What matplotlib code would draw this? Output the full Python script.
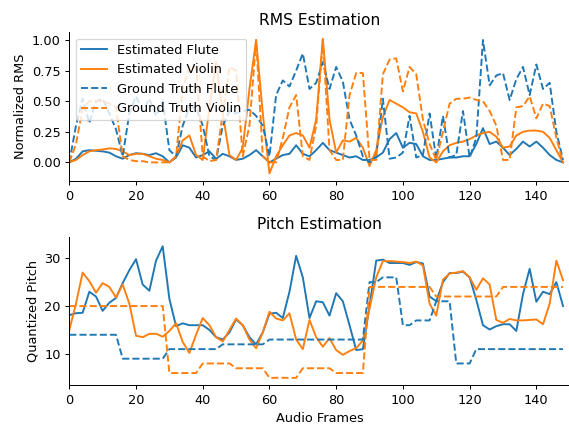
import numpy as np
import matplotlib
matplotlib.use("Agg")
import matplotlib.pyplot as plt

frames = np.arange(0, 150, 2)

rms_est_flute = [0.00, 0.03, 0.09, 0.10, 0.095, 0.09, 0.08, 0.05, 0.03, 0.06,
                 0.075, 0.07, 0.06, 0.075, 0.05, 0.00, 0.04, 0.14, 0.12, 0.04,
                 0.06, 0.09, 0.03, 0.07, 0.05, 0.02, 0.03, 0.06, 0.10, 0.05,
                 0.00, 0.03, 0.06, 0.07, 0.14, 0.07, 0.05, 0.10, 0.16, 0.10,
                 0.08, 0.06, 0.04, 0.05, 0.02, 0.02, 0.04, 0.08, 0.19, 0.24,
                 0.12, 0.16, 0.15, 0.05, 0.02, 0.02, 0.03, 0.04, 0.04, 0.05,
                 0.05, 0.15, 0.28, 0.15, 0.17, 0.12, 0.06, 0.11, 0.17, 0.13,
                 0.17, 0.12, 0.06, 0.02, 0.00]

rms_est_violin = [0.00, 0.02, 0.06, 0.09, 0.10, 0.105, 0.115, 0.11, 0.09, 0.06,
                  0.07, 0.07, 0.05, 0.03, 0.02, 0.00, 0.05, 0.18, 0.22, 0.06,
                  0.02, 0.45, 0.82, 0.40, 0.06, 0.02, 0.12, 0.60, 1.00, 0.40,
                  -0.09, 0.05, 0.14, 0.22, 0.24, 0.22, 0.12, 0.35, 1.01, 0.35,
                  0.08, 0.18, 0.17, 0.20, 0.12, -0.03, 0.10, 0.37, 0.51, 0.48,
                  0.45, 0.41, 0.40, 0.25, 0.04, 0.00, 0.09, 0.14, 0.16, 0.17,
                  0.19, 0.22, 0.24, 0.25, 0.21, 0.12, 0.13, 0.22, 0.25, 0.26,
                  0.26, 0.25, 0.20, 0.10, 0.00]

rms_gt_flute = [0.00, 0.30, 0.52, 0.32, 0.50, 0.52, 0.40, 0.27, 0.05, 0.40,
                0.54, 0.42, 0.52, 0.38, 0.50, 0.10, 0.05, 0.30, 0.45, 0.45,
                0.30, 0.05, 0.02, 0.30, 0.42, 0.40, 0.42, 0.43, 0.38, 0.30,
                0.05, 0.55, 0.67, 0.62, 0.75, 0.89, 0.60, 0.65, 0.82, 0.60,
                0.78, 0.66, 0.35, 0.22, 0.05, 0.00, 0.05, 0.52, 0.03, 0.04,
                0.08, 0.38, 0.04, 0.06, 0.40, 0.03, 0.38, 0.04, 0.06, 0.42,
                0.04, 0.20, 1.00, 0.63, 0.71, 0.73, 0.51, 0.68, 0.78, 0.55,
                0.80, 0.60, 0.65, 0.25, 0.02]

rms_gt_violin = [0.00, 0.15, 0.44, 0.50, 0.50, 0.50, 0.48, 0.45, 0.05, 0.02,
                 0.01, 0.01, 0.00, 0.00, 0.00, 0.00, 0.05, 0.60, 0.78, 0.78,
                 0.05, 0.01, 0.02, 0.40, 0.78, 0.75, 0.05, 0.30, 1.00, 0.05,
                 0.00, 0.00, 0.20, 0.45, 0.55, 0.05, 0.02, 0.30, 1.00, 0.10,
                 0.02, 0.02, 0.55, 0.73, 0.73, 0.02, 0.02, 0.72, 0.84, 0.85,
                 0.58, 0.78, 0.72, 0.35, 0.15, 0.02, 0.25, 0.48, 0.52, 0.52,
                 0.53, 0.51, 0.50, 0.42, 0.30, 0.02, 0.02, 0.45, 0.46, 0.54,
                 0.36, 0.48, 0.46, 0.20, 0.00]

pitch_est_flute = [18.1, 18.5, 18.6, 23.0, 22.0, 19.0, 20.7, 21.7, 24.8, 27.5,
                   29.8, 24.5, 23.2, 29.5, 32.5, 21.5, 15.8, 16.4, 16.0, 16.0,
                   16.0, 15.0, 13.5, 13.0, 14.5, 17.2, 16.0, 13.5, 12.0, 14.5,
                   18.4, 18.6, 17.5, 23.0, 30.5, 26.0, 17.5, 21.0, 20.8, 18.0,
                   22.7, 21.0, 16.0, 10.8, 11.0, 20.0, 29.5, 29.7, 29.0, 29.0,
                   29.0, 28.6, 29.2, 28.9, 22.0, 21.0, 25.0, 26.9, 26.9, 27.2,
                   26.0, 21.3, 16.0, 15.1, 15.8, 16.2, 16.2, 14.8, 22.5, 27.8,
                   20.9, 23.0, 22.5, 25.0, 20.0]

pitch_est_violin = [15.0, 20.5, 27.0, 25.2, 22.8, 24.8, 24.0, 21.8, 24.5, 20.5,
                    13.8, 13.5, 14.2, 14.2, 13.6, 14.8, 16.4, 12.5, 10.2, 14.0,
                    17.5, 16.0, 13.5, 12.6, 15.0, 17.4, 16.0, 13.0, 11.2, 14.5,
                    18.8, 17.4, 17.0, 18.5, 13.0, 11.0, 17.1, 13.5, 11.5, 13.3,
                    10.8, 9.8, 10.6, 11.2, 12.8, 19.5, 26.0, 29.4, 29.4, 29.3,
                    29.2, 29.0, 29.3, 28.5, 20.5, 18.0, 25.5, 26.8, 27.0, 27.3,
                    26.0, 23.4, 25.8, 24.5, 17.1, 16.5, 17.3, 17.0, 17.0, 17.1,
                    17.2, 16.2, 20.5, 29.5, 25.4]

pitch_gt_flute = [14, 14, 14, 14, 14, 14, 14, 14, 9, 9,
                  9, 9, 9, 9, 9, 11, 11, 11, 11, 11,
                  11, 11, 11, 12, 12, 12, 12, 12, 12, 12,
                  13, 13, 13, 13, 13, 13, 13, 13, 13, 13,
                  13, 13, 13, 13, 13, 25, 25, 26, 26, 26,
                  16, 16, 17, 17, 17, 21, 21, 21, 8, 8,
                  8, 11, 11, 11, 11, 11, 11, 11, 11, 11,
                  11, 11, 11, 11, 11]

pitch_gt_violin = [20, 20, 20, 20, 20, 20, 20, 20, 20, 20,
                   20, 20, 20, 20, 20, 6, 6, 6, 6, 6,
                   8, 8, 8, 8, 8, 7, 7, 7, 7, 7,
                   5, 5, 5, 5, 5, 7, 7, 7, 7, 7,
                   6, 6, 6, 6, 6, 24, 24, 24, 24, 24,
                   24, 24, 24, 24, 24, 22, 22, 22, 22, 22,
                   22, 22, 22, 22, 22, 24, 24, 24, 24, 24,
                   24, 24, 24, 24, 24]

xticks = [0, 20, 40, 60, 80, 100, 120, 140]
rms_yticks = [0.0, 0.25, 0.5, 0.75, 1.0]
pitch_yticks = [10, 20, 30]

# ---- figure ----
W, H = 569, 424
DPI = 89
FS = 10.4
plt.rcParams['font.family'] = ['DejaVu Sans']
plt.rcParams['font.size'] = FS
plt.rcParams['xtick.labelsize'] = FS
plt.rcParams['ytick.labelsize'] = FS
plt.rcParams['axes.labelsize'] = FS
fig = plt.figure(figsize=(W / DPI, H / DPI), dpi=DPI)

def box(left, top, right, bottom):
    return [left / W, 1 - bottom / H, (right - left) / W, (bottom - top) / H]

ax1 = fig.add_axes(box(69.3, 32.3, 569.7, 181))
ax2 = fig.add_axes(box(69.3, 236.7, 569.7, 385))

c0, c1 = '#1f77b4', '#ff7f0e'
lw = 1.55

ax1.plot(frames, rms_est_flute, color=c0, lw=lw, label='Estimated Flute')
ax1.plot(frames, rms_est_violin, color=c1, lw=lw, label='Estimated Violin')
ax1.plot(frames, rms_gt_flute, color=c0, lw=lw, ls='--', label='Ground Truth Flute')
ax1.plot(frames, rms_gt_violin, color=c1, lw=lw, ls='--', label='Ground Truth Violin')
ax1.set_xlim(0, 150)
ax1.set_ylim(-0.152, 1.063)
ax1.set_yticks(rms_yticks)
ax1.set_yticklabels([f'{v:.2f}' for v in rms_yticks])
ax1.set_xticks(xticks)
ax1.set_ylabel('Normalized RMS')
ax1.set_title('RMS Estimation', fontsize=12.5)
ax1.legend(loc='upper left', fontsize=FS)

ax2.plot(frames, pitch_est_flute, color=c0, lw=lw)
ax2.plot(frames, pitch_est_violin, color=c1, lw=lw)
ax2.plot(frames, pitch_gt_flute, color=c0, lw=lw, ls='--')
ax2.plot(frames, pitch_gt_violin, color=c1, lw=lw, ls='--')
ax2.set_xlim(0, 150)
ax2.set_ylim(3.5, 34.5)
ax2.set_yticks(pitch_yticks)
ax2.set_xticks(xticks)
ax2.set_ylabel('Quantized Pitch')
ax2.set_xlabel('Audio Frames')
ax2.set_title('Pitch Estimation', fontsize=12.5)

for ax in (ax1, ax2):
    ax.spines['top'].set_visible(False)
    ax.spines['right'].set_visible(False)

fig.savefig('out.png', dpi=DPI)
